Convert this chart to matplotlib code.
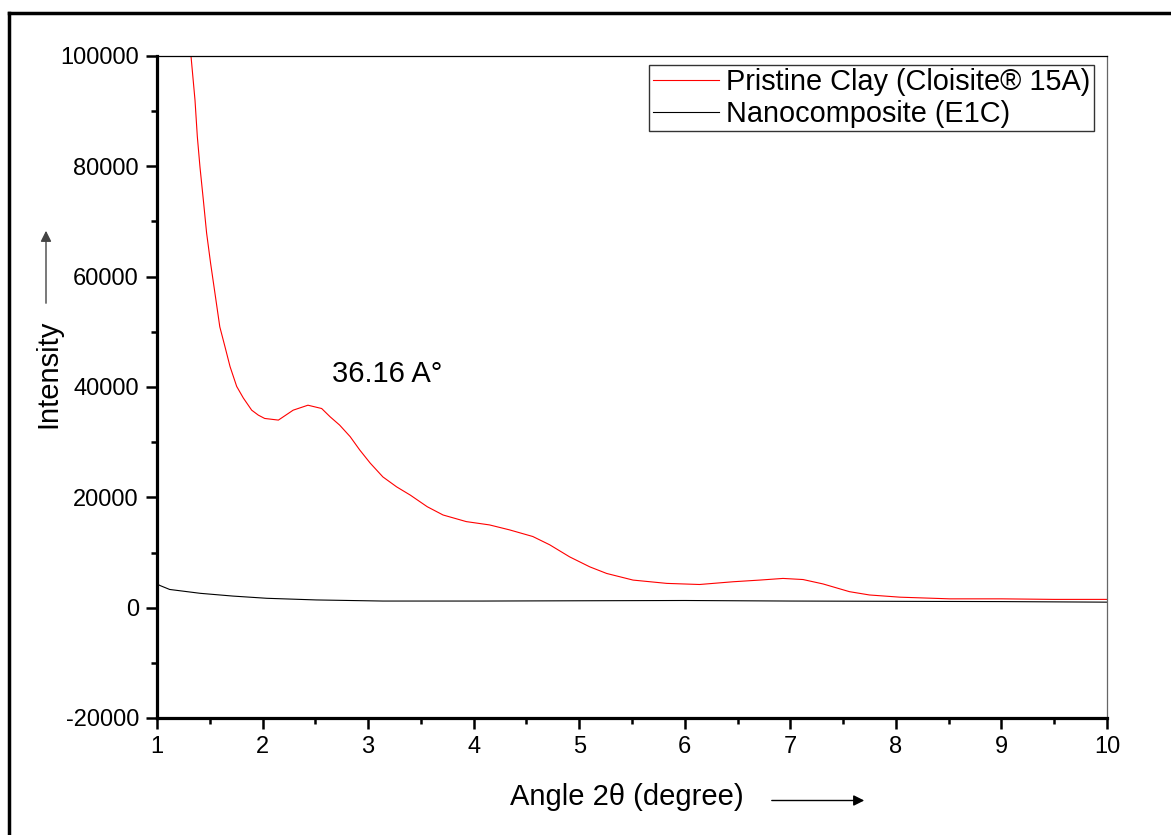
import matplotlib
matplotlib.use('Agg')
import matplotlib.pyplot as plt
import matplotlib.lines as mlines
from matplotlib.patches import FancyArrowPatch
from matplotlib.ticker import MultipleLocator

plt.rcParams['font.family'] = ['Liberation Sans', 'DejaVu Sans']
plt.rcParams['axes.unicode_minus'] = False

# Pristine clay (Cloisite 15A) trace
clay_angle = [1.28, 1.322, 1.36, 1.382, 1.407, 1.439, 1.470, 1.508, 1.549, 1.595,
              1.644, 1.692, 1.755, 1.818, 1.897, 1.96, 2.02, 2.15, 2.29, 2.43,
              2.56, 2.64, 2.73, 2.83, 2.92, 3.02, 3.14, 3.27, 3.40, 3.56, 3.71,
              3.93, 4.15, 4.34, 4.56, 4.72, 4.91, 5.10, 5.26, 5.51, 5.83, 6.14,
              6.46, 6.71, 6.93, 7.12, 7.31, 7.56, 7.75, 8.04, 8.51, 9.0, 9.5, 10.0]
clay_intensity = [108000, 100000, 92000, 85400, 79900, 73900, 67900, 62400, 57000,
                  50900, 47300, 43700, 40100, 38000, 35800, 34900, 34300, 34000,
                  35800, 36700, 36100, 34600, 33100, 31000, 28600, 26200, 23700,
                  21900, 20400, 18300, 16800, 15600, 15000, 14100, 12900, 11400,
                  9200, 7400, 6200, 5000, 4400, 4200, 4700, 5000, 5300, 5100, 4300,
                  2900, 2300, 1900, 1600, 1600, 1500, 1500]

# Nanocomposite (E1C) trace
nano_angle = [1.0, 1.03, 1.12, 1.41, 1.72, 2.04, 2.51, 3.14, 4.09, 5.0, 6.0, 7.0,
              8.0, 9.0, 10.0]
nano_intensity = [4300, 4000, 3300, 2600, 2100, 1700, 1400, 1200, 1200, 1250, 1300,
                  1200, 1150, 1100, 1000]

W, H = 1171, 835
fig = plt.figure(figsize=(W / 100, H / 100), dpi=100)
ax = fig.add_axes([157 / W, 1 - 718 / H, (1107 - 157) / W, (718 - 56) / H])

ax.plot(clay_angle, clay_intensity, color='red', lw=0.8,
        label='Pristine Clay (Cloisite® 15A)')
ax.plot(nano_angle, nano_intensity, color='black', lw=0.8,
        label='Nanocomposite (E1C)')

ax.set_xlim(1, 10)
ax.set_ylim(-20000, 100000)
ax.xaxis.set_major_locator(MultipleLocator(1))
ax.xaxis.set_minor_locator(MultipleLocator(0.5))
ax.yaxis.set_major_locator(MultipleLocator(20000))
ax.yaxis.set_minor_locator(MultipleLocator(10000))
ax.tick_params(which='major', direction='out', length=8, width=1.8,
               labelsize=17, pad=5)
ax.tick_params(which='minor', direction='out', length=4, width=1.8)
ax.tick_params(top=False, right=False, which='both')

ax.spines['left'].set_linewidth(2.3)
ax.spines['bottom'].set_linewidth(2.3)
ax.spines['top'].set_linewidth(0.9)
ax.spines['right'].set_linewidth(0.9)
ax.spines['right'].set_color('#666666')

ax.text(2.658, 40960, '36.16 A°', fontsize=21, ha='left', va='baseline')

leg = ax.legend(loc='upper right', bbox_to_anchor=(1094 / W, 1 - 65 / H),
                bbox_transform=fig.transFigure, borderaxespad=0, fontsize=20.8,
                handlelength=2.3, handletextpad=0.25, labelspacing=0.12,
                borderpad=0.12, fancybox=False, framealpha=1)
leg.get_frame().set_edgecolor('#333333')
leg.get_frame().set_linewidth(1.0)

# axis labels with arrows
fig.text(48 / W, 1 - 374 / H, 'Intensity', rotation=90, fontsize=21,
         ha='center', va='center')
fig.text(627 / W, 1 - 797 / H, 'Angle 2θ (degree)', fontsize=21,
         ha='center', va='center')
fig.patches.append(FancyArrowPatch((46 / W, 1 - 306 / H), (46 / W, 1 - 228 / H),
                                   transform=fig.transFigure, arrowstyle='-|>',
                                   mutation_scale=16, lw=1, color='#444444'))
fig.patches.append(FancyArrowPatch((769 / W, 1 - 800.5 / H), (867 / W, 1 - 800.5 / H),
                                   transform=fig.transFigure, arrowstyle='-|>',
                                   mutation_scale=16, lw=1, color='black'))

# outer frame (top and left edges)
fig.add_artist(mlines.Line2D([8.5 / W, 1], [1 - 12.5 / H, 1 - 12.5 / H],
                             transform=fig.transFigure, color='black', lw=2.5))
fig.add_artist(mlines.Line2D([8.5 / W, 8.5 / W], [0, 1 - 12.5 / H],
                             transform=fig.transFigure, color='black', lw=2.5))

fig.savefig('out.png', dpi=100)
